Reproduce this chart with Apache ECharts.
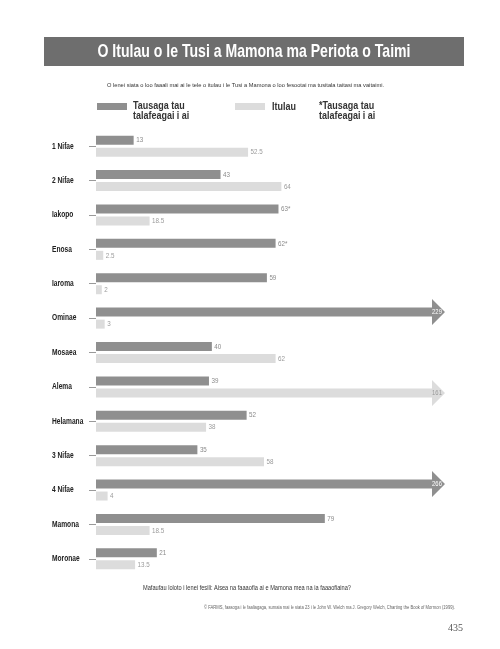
<!DOCTYPE html>
<html>
<head>
<meta charset="utf-8">
<script src="https://cdn.jsdelivr.net/npm/echarts@6/dist/echarts.min.js"></script>
<style>
html,body{margin:0;padding:0;background:#fff;}
#c{width:500px;height:649px;}
</style>
</head>
<body>
<div id="c"></div>
<script>
const categories = ['1 Nifae','2 Nifae','Iakopo','Enosa','Iaroma','Ominae','Mosaea','Alema','Helamana','3 Nifae','4 Nifae','Mamona','Moronae'];
const years = [13, 43, 63, 62, 59, 229, 40, 39, 52, 35, 266, 79, 21];
const yearsApprox = [false, false, true, true, false, false, false, false, false, false, false, false, false];
const pages = [52.5, 64, 18.5, 2.5, 2, 3, 62, 161, 38, 58, 4, 18.5, 13.5];
const AXIS_MAX = 116;

const FONT = "'Liberation Sans',Arial,sans-serif";
const NARROW = 0.78;
const DARK = '#8f8f8f';
const LIGHT = '#dcdcdc';

const measureCtx = document.createElement('canvas').getContext('2d');
function fitScale(text, size, weight, target) {
  measureCtx.font = weight + ' ' + size + 'px ' + FONT;
  return target / measureCtx.measureText(text).width;
}

function makeRender(color, isTop, approxFlags, valueColor, arrowTextColor, drawCategory) {
  return function (params, api) {
    const v = api.value(0);
    const cat = api.value(1);
    const c = api.coord([0, cat]);
    const x0 = c[0];
    const h = 9, gap = 3;
    const yTop = isTop ? c[1] - gap / 2 - h : c[1] + gap / 2;
    const cy = yTop + h / 2;
    const label = v + (approxFlags && approxFlags[params.dataIndex] ? '*' : '');
    const children = [];
    if (drawCategory) {
      children.push({ type: 'text', x: x0 - 44, y: c[1], scaleX: NARROW,
        style: { text: categories[cat], fill: '#222', fontSize: 8.5, fontWeight: 'bold', fontFamily: FONT, textAlign: 'left', textVerticalAlign: 'middle' } });
    }
    if (v > AXIS_MAX) {
      const xe = api.coord([AXIS_MAX, cat])[0];
      const head = 13;
      children.push({ type: 'polygon', shape: { points: [
          [x0, yTop], [xe, yTop], [xe, cy - head], [xe + head, cy], [xe, cy + head], [xe, yTop + h], [x0, yTop + h]
        ] }, style: { fill: color } });
      children.push({ type: 'text', x: xe + 5, y: cy, scaleX: NARROW,
        style: { text: label, fill: arrowTextColor, fontSize: 7.5, fontFamily: FONT, textAlign: 'center', textVerticalAlign: 'middle' } });
    } else {
      const xv = api.coord([v, cat])[0];
      children.push({ type: 'rect', shape: { x: x0, y: yTop, width: xv - x0, height: h }, style: { fill: color } });
      children.push({ type: 'text', x: xv + 2.5, y: cy, scaleX: NARROW,
        style: { text: label, fill: valueColor, fontSize: 8, fontFamily: FONT, textAlign: 'left', textVerticalAlign: 'middle' } });
    }
    return { type: 'group', children: children };
  };
}

const TITLE = 'O Itulau o le Tusi a Mamona ma Periota o Taimi';
const titleScale = fitScale(TITLE, 19, 'bold', 313);
const QUESTION = 'Mafaufau loloto i lenei fesili: Aisea na faaaofia ai e Mamona mea na ia faaaofiaina?';
const qScale = fitScale(QUESTION, 7, 'normal', 208);
const SUB = 'O lenei siata o loo faaali mai ai le tele o itulau i le Tusi a Mamona o loo fesootai ma tusitala taitasi ma vaitaimi.';
const subScale = fitScale(SUB, 6, 'normal', 277);
const NOTE = '© FARMS, faasoga i le faaliagaga, sumaia mai le siata 23 i le John W. Welch ma J. Gregory Welch, Charting the Book of Mormon (1999).';
const noteScale = fitScale(NOTE, 4.6, 'normal', 251);

const chart = echarts.init(document.getElementById('c'), null, { renderer: 'canvas' });
chart.setOption({
  backgroundColor: '#ffffff',
  animation: false,
  grid: { left: 96, right: 68, top: 129, bottom: 73, containLabel: false },
  xAxis: { type: 'value', min: 0, max: AXIS_MAX, show: false },
  yAxis: {
    type: 'category', data: categories, inverse: true,
    axisLine: { show: false },
    axisTick: { show: true, alignWithLabel: true, length: 7, lineStyle: { color: '#9a9a9a', width: 1 } },
    axisLabel: { show: false },
    splitLine: { show: false }
  },
  series: [
    { type: 'custom', name: 'Tausaga tau talafeagai i ai', data: years.map((v, i) => [v, i]), encode: { x: 0, y: 1 },
      renderItem: makeRender(DARK, true, yearsApprox, '#8a8a8a', '#ffffff', true) },
    { type: 'custom', name: 'Itulau', data: pages.map((v, i) => [v, i]), encode: { x: 0, y: 1 },
      renderItem: makeRender(LIGHT, false, null, '#9a9a9a', '#9a9a9a', false) }
  ],
  graphic: [
    { type: 'rect', left: 44, top: 37, shape: { width: 420, height: 29 }, style: { fill: '#6e6e6e' } },
    { type: 'text', x: 254, y: 52, scaleX: titleScale, style: { text: TITLE, fill: '#fff', fontSize: 19, fontWeight: 'bold', fontFamily: FONT, textAlign: 'center', textVerticalAlign: 'middle' } },
    { type: 'text', x: 245.5, y: 85, scaleX: subScale, style: { text: SUB, fill: '#333', fontSize: 6, fontFamily: FONT, textAlign: 'center', textVerticalAlign: 'middle' } },
    { type: 'rect', left: 97, top: 103, shape: { width: 30, height: 7 }, style: { fill: DARK } },
    { type: 'text', x: 133, y: 101, scaleX: NARROW, style: { text: 'Tausaga tau\ntalafeagai i ai', fill: '#333', fontSize: 11.5, lineHeight: 10, fontWeight: 'bold', fontFamily: FONT, textAlign: 'left', textVerticalAlign: 'top' } },
    { type: 'rect', left: 235, top: 103, shape: { width: 30, height: 7 }, style: { fill: LIGHT } },
    { type: 'text', x: 272, y: 101, scaleX: NARROW, style: { text: 'Itulau', fill: '#333', fontSize: 11.5, fontWeight: 'bold', fontFamily: FONT, textAlign: 'left', textVerticalAlign: 'top' } },
    { type: 'text', x: 319, y: 101, scaleX: NARROW, style: { text: '*Tausaga tau\ntalafeagai i ai', fill: '#333', fontSize: 11.5, lineHeight: 10, fontWeight: 'bold', fontFamily: FONT, textAlign: 'left', textVerticalAlign: 'top' } },
    { type: 'text', x: 247, y: 588, scaleX: qScale, style: { text: QUESTION, fill: '#333', fontSize: 7, fontFamily: FONT, textAlign: 'center', textVerticalAlign: 'middle' } },
    { type: 'text', x: 455, y: 608, scaleX: noteScale, style: { text: NOTE, fill: '#666', fontSize: 4.6, fontFamily: FONT, textAlign: 'right', textVerticalAlign: 'middle' } },
    { type: 'text', x: 463, y: 628, style: { text: '435', fill: '#555', fontSize: 10, fontFamily: "'Liberation Serif','DejaVu Serif',serif", textAlign: 'right', textVerticalAlign: 'middle' } }
  ]
});
</script>
</body>
</html>
